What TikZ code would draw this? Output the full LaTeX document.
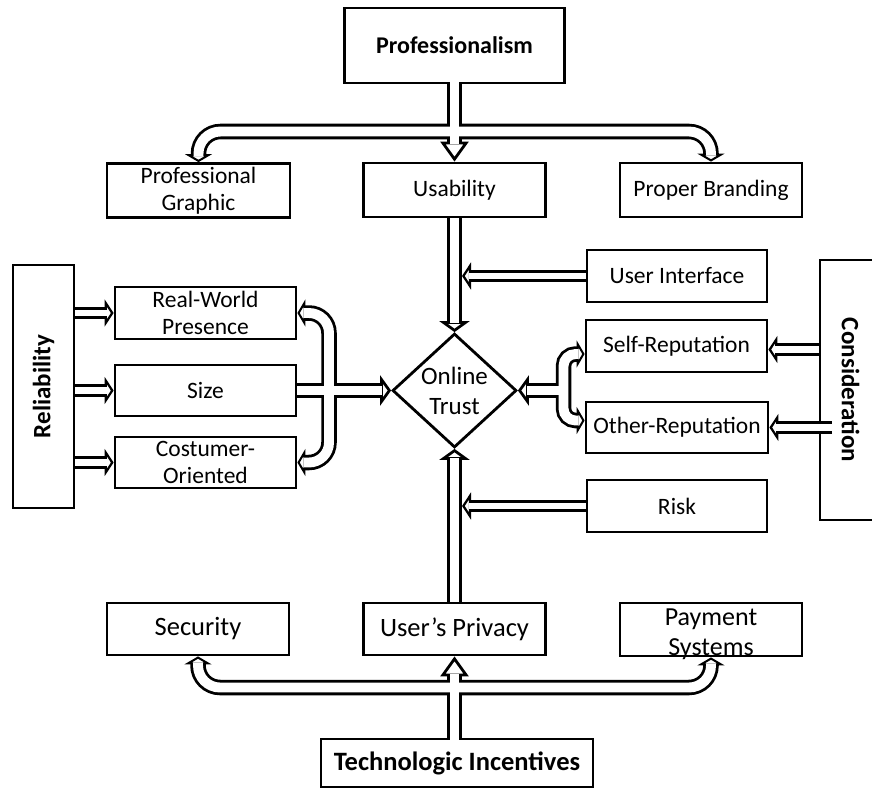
\documentclass[tikz,border=0pt]{standalone}
\usepackage{fontspec}
\usepackage{graphicx}
\setmainfont{Carlito}
\usetikzlibrary{arrows.meta,shapes.geometric,calc}

% all connectors, drawn twice: once as black casing with heads, once as white core
\newcommand{\shaftpaths}{%
  \draw[big,hbig,openstart] (prof.south) -- (usab.north);
  \draw[big,hcurve] (jt) [rounded corners=22pt] -| (graphic.north);
  \draw[big,hcurve] (jt) [rounded corners=22pt] -| (brand.north);
  \draw[big,hdia] (usab.south) -- (trust.north);
  \draw[small,hside] (ui.west) -- (uiend);
  \draw[small,hside] (rel.east |- rw.west) -- (rw.west);
  \draw[small,hside] (rel.east |- size.west) -- (size.west);
  \draw[small,hside] (rel.east |- cust.west) -- (cust.west);
  \draw[big,hdia] (size.east) -- (trust.west);
  \draw[big,hcboth,rounded corners=20pt] (rw.east) -- (rw.east -| bandL) -- (cust.east -| bandL) -- (cust.east);
  \draw[big,hdia] (jr) -- (trust.east);
  \draw[big,hcboth,rounded corners=12pt] (sa) -- (sa -| jr) -- (ob -| jr) -- (ob);
  \draw[small,hside] (risk.west) -- (riskend);
  \draw[small,hside] (cons.west |- selfa) -- (selfa);
  \draw[small,hside,openstart] (consin) -- (other.east);
  \draw[big,hbig,openstart] (priv.south |- tech.north) -- (priv.south);
  \draw[big,hcurve] (jb) [rounded corners=22pt] -| (sec.south);
  \draw[big,hcurve] (jb) [rounded corners=22pt] -| (pay.south);
  \draw[big,hdia] (priv.north) -- (trust.south);
}

\begin{document}
\begin{tikzpicture}[x=1pt,y=-1pt,
  lbl/.style={font=\fontsize{23.5}{27}\selectfont, align=center, text=black},
  biglbl/.style={font=\fontsize{26.5}{30}\selectfont},
  boldlbl/.style={font=\fontsize{24}{28}\selectfont\bfseries},
  box/.style={draw, line width=2.8pt, rectangle, inner sep=0pt, lbl},
]
\useasboundingbox (0,0) rectangle (872,789);
\clip (0,0) rectangle (872,789);

% ---- top tier
\node[box, boldlbl, minimum width=220pt, minimum height=75pt] (prof) at (454.5,45.5) {Professionalism};
\node[box, minimum width=183pt, minimum height=54pt] (graphic) at (198.5,190.5) {Professional\\Graphic};
\node[box, minimum width=182pt, minimum height=54pt] (usab) at (454.5,190) {Usability};
\node[box, minimum width=182pt, minimum height=54pt] (brand) at (711,190) {Proper Branding};

% ---- left group
\node[box, minimum width=61pt, minimum height=243pt] (rel) at (43.5,386.5)
  {\rotatebox{90}{\fontsize{25}{28}\selectfont\bfseries Reliability}};
\node[box, minimum width=181pt, minimum height=52pt] (rw) at (205.5,313) {Real-World\\Presence};
\node[box, minimum width=181pt, minimum height=51pt] (size) at (205.5,390.5) {Size};
\node[box, minimum width=181pt, minimum height=51pt] (cust) at (205.5,462.5) {Costumer-\\Oriented};

% ---- centre
\node[diamond, draw, line width=2.8pt, inner sep=0pt, minimum width=124pt, minimum height=114pt] (trust) at (454.5,390.5) {};
\node[lbl, font=\fontsize{25}{30}\selectfont] (trusttxt) at (454.5,391) {Online\\Trust};

% ---- right group
\node[box, minimum width=180pt, minimum height=52pt] (ui) at (677,276) {User Interface};
\node[box, minimum width=181pt, minimum height=52pt] (self) at (676.5,346) {Self-Reputation};
\node[box, minimum width=182pt, minimum height=51pt] (other) at (677,427.5) {Other-Reputation};
\node[box, minimum width=180pt, minimum height=52pt] (risk) at (677,506) {Risk};
\node[box, minimum width=61pt, minimum height=260pt] (cons) at (850.5,390)
  {\rotatebox{-90}{\fontsize{25}{28}\selectfont\bfseries Consideration}};

% ---- bottom tier
\node[box, biglbl, minimum width=182pt, minimum height=52pt] (sec) at (198,629) {Security};
\node[box, biglbl, minimum width=182pt, minimum height=52pt] (priv) at (454.5,629) {User’s Privacy};
\node[box, minimum width=182pt, minimum height=53pt] (pay) at (711,629.5) {};
\node[lbl, font=\fontsize{26}{30}\selectfont] (paytxt) at (711,634) {Payment\\Systems};
\node[box, font=\fontsize{26.5}{30}\selectfont\bfseries, minimum width=272pt, minimum height=48pt] (tech) at (457,763) {Technologic Incentives};

% ---- junctions and free ends
\coordinate (jt) at (454.5,131.5);
\coordinate (jb) at (454.5,687.5);
\coordinate (bandL) at (329,390.5);
\coordinate (jr) at (563.5,390.5);
\coordinate (uiend) at (462,276);
\coordinate (riskend) at (462,506);
\coordinate (sa) at ($(self.west)+(0,8)$);
\coordinate (ob) at ($(other.west)+(0,-7)$);
\coordinate (selfa) at ($(self.east)+(0,3.5)$);
\coordinate (consin) at (832,427.5);

% casing pass
\begin{scope}[black,
  big/.style={line width=15.5pt}, small/.style={line width=12.5pt},
  hbig/.style={-{Triangle[length=20pt,width=28pt,line width=2.8pt,fill=white]}},
  hdia/.style={-{Triangle[length=11pt,width=30pt,line width=2.8pt,fill=white]}},
  hside/.style={-{Triangle[length=9pt,width=27pt,line width=2.8pt,fill=white]}},
  hcurve/.style={-{Triangle[length=8pt,width=27pt,line width=2.8pt,fill=white]}},
  hcboth/.style={{Triangle[length=8pt,width=27pt,line width=2.8pt,fill=white]}-{Triangle[length=8pt,width=27pt,line width=2.8pt,fill=white]}},
  openstart/.style={}]
\shaftpaths
\end{scope}

% core pass
\begin{scope}[white,
  big/.style={line width=9.9pt}, small/.style={line width=6.9pt},
  hbig/.style={shorten >=18pt},
  hdia/.style={shorten >=9pt},
  hside/.style={shorten >=7pt},
  hcurve/.style={shorten >=6pt},
  hcboth/.style={shorten >=6pt, shorten <=6pt},
  openstart/.style={shorten <=-3.4pt}]
\shaftpaths
\end{scope}
\end{tikzpicture}
\end{document}
